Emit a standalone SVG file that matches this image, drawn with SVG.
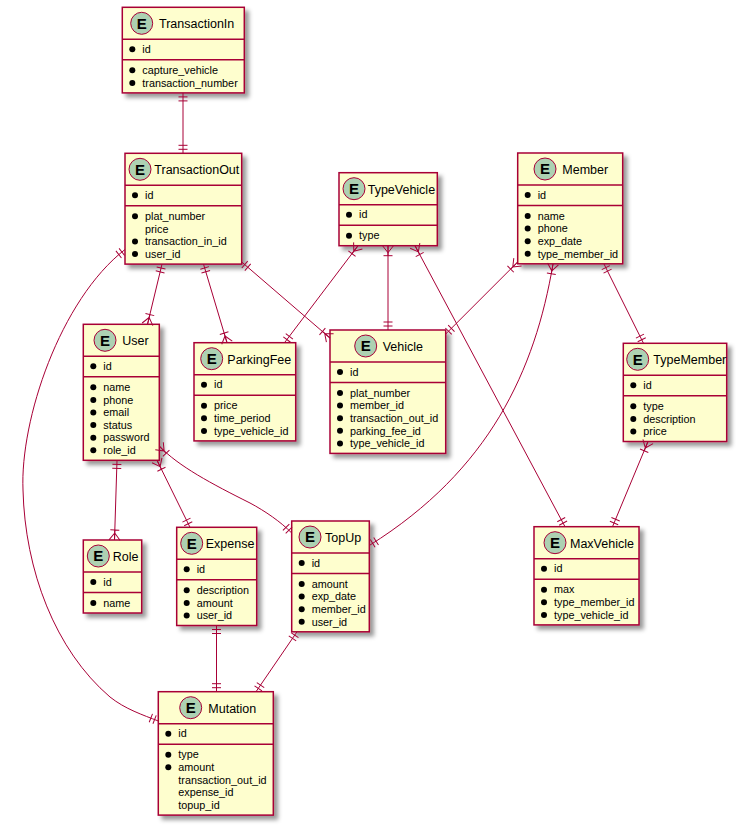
<svg xmlns="http://www.w3.org/2000/svg" width="739" height="828" viewBox="0 0 739 828">
<defs>
<filter id="sh" x="-20%" y="-20%" width="150%" height="150%">
<feGaussianBlur in="SourceAlpha" stdDeviation="2" result="b1"/>
<feColorMatrix type="matrix" in="b1" result="b2" values="0 0 0 0 0  0 0 0 0 0  0 0 0 0 0  0 0 0 0.4 0"/>
<feOffset dx="4" dy="4" in="b2" result="b3"/>
<feBlend in="SourceGraphic" in2="b3" mode="normal"/>
</filter>
<marker id="one" markerUnits="userSpaceOnUse" orient="auto-start-reverse" viewBox="-14 -8 28 16" markerWidth="28" markerHeight="16" refX="0" refY="0" overflow="visible">
<path d="M-4,-4.5V4.5M-8,-4.5V4.5" fill="none" stroke="#A80036" stroke-width="1"/>
</marker>
<marker id="many" markerUnits="userSpaceOnUse" orient="auto-start-reverse" viewBox="-14 -8 28 16" markerWidth="28" markerHeight="16" refX="0" refY="0" overflow="visible">
<path d="M-10,-4.5V4.5M-7,0L0,-5.5M-7,0L0,5.5M-10,0H0" fill="none" stroke="#A80036" stroke-width="1"/>
</marker>
</defs>
<style>
.box{fill:#FEFECE;stroke:#A80036;stroke-width:1.5;filter:url(#sh)}
.sep{stroke:#A80036;stroke-width:1.5}
.ec{fill:#ADD1B2;stroke:#A80036;stroke-width:1}
.E{font-family:"Liberation Sans",Arial,sans-serif;font-weight:bold;font-size:15px;text-anchor:middle;fill:#000}
.t{font-family:"Liberation Sans",Arial,sans-serif;font-size:12.5px;fill:#000}
.a{font-family:"Liberation Sans",Arial,sans-serif;font-size:10.8px;fill:#000}
.b{fill:#000}
.c{fill:none;stroke:#A80036;stroke-width:1}
.o1{marker-start:url(#one)}
.m1{marker-start:url(#many)}
.o2{marker-end:url(#one)}
.m2{marker-end:url(#many)}
</style>

<g id="TransactionIn">
<rect class="box" x="122.3" y="7.3" width="122" height="85.6"/>
<circle class="ec" cx="141.7" cy="23.3" r="11"/>
<text class="E" x="141.7" y="28.7">E</text>
<text class="t" x="159" y="28.3">TransactionIn</text>
<line class="sep" x1="122.3" y1="39.3" x2="244.3" y2="39.3"/>
<circle class="b" cx="132.3" cy="49.3" r="3"/>
<text class="a" x="142.3" y="53">id</text>
<line class="sep" x1="122.3" y1="59.8" x2="244.3" y2="59.8"/>
<circle class="b" cx="132.3" cy="70.3" r="3"/>
<text class="a" x="142.3" y="74">capture_vehicle</text>
<circle class="b" cx="132.3" cy="82.9" r="3"/>
<text class="a" x="142.3" y="86.6">transaction_number</text>
</g>

<g id="TransactionOut">
<rect class="box" x="125" y="153.3" width="116.7" height="110.8"/>
<circle class="ec" cx="140" cy="169.3" r="11"/>
<text class="E" x="140" y="174.7">E</text>
<text class="t" x="154.3" y="174.3">TransactionOut</text>
<line class="sep" x1="125" y1="185.3" x2="241.7" y2="185.3"/>
<circle class="b" cx="135" cy="195.3" r="3"/>
<text class="a" x="145" y="199">id</text>
<line class="sep" x1="125" y1="205.8" x2="241.7" y2="205.8"/>
<circle class="b" cx="135" cy="216.3" r="3"/>
<text class="a" x="145" y="220">plat_number</text>
<text class="a" x="145" y="232.6">price</text>
<circle class="b" cx="135" cy="241.5" r="3"/>
<text class="a" x="145" y="245.2">transaction_in_id</text>
<circle class="b" cx="135" cy="254.1" r="3"/>
<text class="a" x="145" y="257.8">user_id</text>
</g>

<g id="TypeVehicle">
<rect class="box" x="339" y="172.7" width="98.3" height="73"/>
<circle class="ec" cx="354" cy="188.7" r="11"/>
<text class="E" x="354" y="194.1">E</text>
<text class="t" x="367.7" y="193.7">TypeVehicle</text>
<line class="sep" x1="339" y1="204.7" x2="437.3" y2="204.7"/>
<circle class="b" cx="349" cy="214.7" r="3"/>
<text class="a" x="359" y="218.4">id</text>
<line class="sep" x1="339" y1="225.2" x2="437.3" y2="225.2"/>
<circle class="b" cx="349" cy="235.7" r="3"/>
<text class="a" x="359" y="239.4">type</text>
</g>

<g id="Member">
<rect class="box" x="517.7" y="153" width="105" height="110.8"/>
<circle class="ec" cx="545" cy="169" r="11"/>
<text class="E" x="545" y="174.4">E</text>
<text class="t" x="562.3" y="174">Member</text>
<line class="sep" x1="517.7" y1="185" x2="622.7" y2="185"/>
<circle class="b" cx="527.7" cy="195" r="3"/>
<text class="a" x="537.7" y="198.7">id</text>
<line class="sep" x1="517.7" y1="205.5" x2="622.7" y2="205.5"/>
<circle class="b" cx="527.7" cy="216" r="3"/>
<text class="a" x="537.7" y="219.7">name</text>
<circle class="b" cx="527.7" cy="228.6" r="3"/>
<text class="a" x="537.7" y="232.3">phone</text>
<circle class="b" cx="527.7" cy="241.2" r="3"/>
<text class="a" x="537.7" y="244.9">exp_date</text>
<circle class="b" cx="527.7" cy="253.8" r="3"/>
<text class="a" x="537.7" y="257.5">type_member_id</text>
</g>

<g id="User">
<rect class="box" x="83.3" y="324.3" width="76" height="136"/>
<circle class="ec" cx="105" cy="340.3" r="11"/>
<text class="E" x="105" y="345.7">E</text>
<text class="t" x="122.3" y="345.3">User</text>
<line class="sep" x1="83.3" y1="356.3" x2="159.3" y2="356.3"/>
<circle class="b" cx="93.3" cy="366.3" r="3"/>
<text class="a" x="103.3" y="370">id</text>
<line class="sep" x1="83.3" y1="376.8" x2="159.3" y2="376.8"/>
<circle class="b" cx="93.3" cy="387.3" r="3"/>
<text class="a" x="103.3" y="391">name</text>
<circle class="b" cx="93.3" cy="399.9" r="3"/>
<text class="a" x="103.3" y="403.6">phone</text>
<circle class="b" cx="93.3" cy="412.5" r="3"/>
<text class="a" x="103.3" y="416.2">email</text>
<circle class="b" cx="93.3" cy="425.1" r="3"/>
<text class="a" x="103.3" y="428.8">status</text>
<circle class="b" cx="93.3" cy="437.7" r="3"/>
<text class="a" x="103.3" y="441.4">password</text>
<circle class="b" cx="93.3" cy="450.3" r="3"/>
<text class="a" x="103.3" y="454">role_id</text>
</g>

<g id="ParkingFee">
<rect class="box" x="194" y="342.7" width="101.7" height="98.2"/>
<circle class="ec" cx="211.7" cy="358.7" r="11"/>
<text class="E" x="211.7" y="364.1">E</text>
<text class="t" x="227.3" y="363.7">ParkingFee</text>
<line class="sep" x1="194" y1="374.7" x2="295.7" y2="374.7"/>
<circle class="b" cx="204" cy="384.7" r="3"/>
<text class="a" x="214" y="388.4">id</text>
<line class="sep" x1="194" y1="395.2" x2="295.7" y2="395.2"/>
<circle class="b" cx="204" cy="405.7" r="3"/>
<text class="a" x="214" y="409.4">price</text>
<circle class="b" cx="204" cy="418.3" r="3"/>
<text class="a" x="214" y="422">time_period</text>
<circle class="b" cx="204" cy="430.9" r="3"/>
<text class="a" x="214" y="434.6">type_vehicle_id</text>
</g>

<g id="Vehicle">
<rect class="box" x="330" y="330" width="115.7" height="123.4"/>
<circle class="ec" cx="365.7" cy="346" r="11"/>
<text class="E" x="365.7" y="351.4">E</text>
<text class="t" x="382.7" y="351">Vehicle</text>
<line class="sep" x1="330" y1="362" x2="445.7" y2="362"/>
<circle class="b" cx="340" cy="372" r="3"/>
<text class="a" x="350" y="375.7">id</text>
<line class="sep" x1="330" y1="382.5" x2="445.7" y2="382.5"/>
<circle class="b" cx="340" cy="393" r="3"/>
<text class="a" x="350" y="396.7">plat_number</text>
<circle class="b" cx="340" cy="405.6" r="3"/>
<text class="a" x="350" y="409.3">member_id</text>
<circle class="b" cx="340" cy="418.2" r="3"/>
<text class="a" x="350" y="421.9">transaction_out_id</text>
<circle class="b" cx="340" cy="430.8" r="3"/>
<text class="a" x="350" y="434.5">parking_fee_id</text>
<circle class="b" cx="340" cy="443.4" r="3"/>
<text class="a" x="350" y="447.1">type_vehicle_id</text>
</g>

<g id="TypeMember">
<rect class="box" x="623.3" y="343.3" width="103.4" height="98.2"/>
<circle class="ec" cx="637.7" cy="359.3" r="11"/>
<text class="E" x="637.7" y="364.7">E</text>
<text class="t" x="653.3" y="364.3">TypeMember</text>
<line class="sep" x1="623.3" y1="375.3" x2="726.7" y2="375.3"/>
<circle class="b" cx="633.3" cy="385.3" r="3"/>
<text class="a" x="643.3" y="389">id</text>
<line class="sep" x1="623.3" y1="395.8" x2="726.7" y2="395.8"/>
<circle class="b" cx="633.3" cy="406.3" r="3"/>
<text class="a" x="643.3" y="410">type</text>
<circle class="b" cx="633.3" cy="418.9" r="3"/>
<text class="a" x="643.3" y="422.6">description</text>
<circle class="b" cx="633.3" cy="431.5" r="3"/>
<text class="a" x="643.3" y="435.2">price</text>
</g>

<g id="MaxVehicle">
<rect class="box" x="534" y="526.7" width="105" height="98.2"/>
<circle class="ec" cx="555" cy="542.7" r="11"/>
<text class="E" x="555" y="548.1">E</text>
<text class="t" x="570" y="547.7">MaxVehicle</text>
<line class="sep" x1="534" y1="558.7" x2="639" y2="558.7"/>
<circle class="b" cx="544" cy="568.7" r="3"/>
<text class="a" x="554" y="572.4">id</text>
<line class="sep" x1="534" y1="579.2" x2="639" y2="579.2"/>
<circle class="b" cx="544" cy="589.7" r="3"/>
<text class="a" x="554" y="593.4">max</text>
<circle class="b" cx="544" cy="602.3" r="3"/>
<text class="a" x="554" y="606">type_member_id</text>
<circle class="b" cx="544" cy="614.9" r="3"/>
<text class="a" x="554" y="618.6">type_vehicle_id</text>
</g>

<g id="Role">
<rect class="box" x="83.3" y="540" width="58.4" height="73"/>
<circle class="ec" cx="98.3" cy="556" r="11"/>
<text class="E" x="98.3" y="561.4">E</text>
<text class="t" x="112.7" y="561">Role</text>
<line class="sep" x1="83.3" y1="572" x2="141.7" y2="572"/>
<circle class="b" cx="93.3" cy="582" r="3"/>
<text class="a" x="103.3" y="585.7">id</text>
<line class="sep" x1="83.3" y1="592.5" x2="141.7" y2="592.5"/>
<circle class="b" cx="93.3" cy="603" r="3"/>
<text class="a" x="103.3" y="606.7">name</text>
</g>

<g id="Expense">
<rect class="box" x="176.7" y="527.3" width="80" height="98.2"/>
<circle class="ec" cx="191.7" cy="543.3" r="11"/>
<text class="E" x="191.7" y="548.7">E</text>
<text class="t" x="205.7" y="548.3">Expense</text>
<line class="sep" x1="176.7" y1="559.3" x2="256.7" y2="559.3"/>
<circle class="b" cx="186.7" cy="569.3" r="3"/>
<text class="a" x="196.7" y="573">id</text>
<line class="sep" x1="176.7" y1="579.8" x2="256.7" y2="579.8"/>
<circle class="b" cx="186.7" cy="590.3" r="3"/>
<text class="a" x="196.7" y="594">description</text>
<circle class="b" cx="186.7" cy="602.9" r="3"/>
<text class="a" x="196.7" y="606.6">amount</text>
<circle class="b" cx="186.7" cy="615.5" r="3"/>
<text class="a" x="196.7" y="619.2">user_id</text>
</g>

<g id="TopUp">
<rect class="box" x="291.7" y="521" width="77.6" height="110.8"/>
<circle class="ec" cx="310" cy="537" r="11"/>
<text class="E" x="310" y="542.4">E</text>
<text class="t" x="325" y="542">TopUp</text>
<line class="sep" x1="291.7" y1="553" x2="369.3" y2="553"/>
<circle class="b" cx="301.7" cy="563" r="3"/>
<text class="a" x="311.7" y="566.7">id</text>
<line class="sep" x1="291.7" y1="573.5" x2="369.3" y2="573.5"/>
<circle class="b" cx="301.7" cy="584" r="3"/>
<text class="a" x="311.7" y="587.7">amount</text>
<circle class="b" cx="301.7" cy="596.6" r="3"/>
<text class="a" x="311.7" y="600.3">exp_date</text>
<circle class="b" cx="301.7" cy="609.2" r="3"/>
<text class="a" x="311.7" y="612.9">member_id</text>
<circle class="b" cx="301.7" cy="621.8" r="3"/>
<text class="a" x="311.7" y="625.5">user_id</text>
</g>

<g id="Mutation">
<rect class="box" x="158.3" y="691.7" width="115" height="123.4"/>
<circle class="ec" cx="190.7" cy="707.7" r="11"/>
<text class="E" x="190.7" y="713.1">E</text>
<text class="t" x="208.3" y="712.7">Mutation</text>
<line class="sep" x1="158.3" y1="723.7" x2="273.3" y2="723.7"/>
<circle class="b" cx="168.3" cy="733.7" r="3"/>
<text class="a" x="178.3" y="737.4">id</text>
<line class="sep" x1="158.3" y1="744.2" x2="273.3" y2="744.2"/>
<circle class="b" cx="168.3" cy="754.7" r="3"/>
<text class="a" x="178.3" y="758.4">type</text>
<circle class="b" cx="168.3" cy="767.3" r="3"/>
<text class="a" x="178.3" y="771">amount</text>
<text class="a" x="178.3" y="783.6">transaction_out_id</text>
<text class="a" x="178.3" y="796.2">expense_id</text>
<text class="a" x="178.3" y="808.8">topup_id</text>
</g>

<g id="connectors">
<path class="c o1 o2" d="M183,92.9 L183,153.3"/>
<path class="c o1 m2" d="M162,264.1 L147.5,324.3"/>
<path class="c o1 m2" d="M203.5,264.1 L227,342.7"/>
<path class="c o1 m2" d="M241.7,262 L330,338"/>
<path class="c o1 o2" d="M125,249.5 C60,300 20,420 23,490 C25,570 55,650 110,697 C125,709 143,715 158.3,721"/>
<path class="c m1 o2" d="M358,245.7 L284.5,342.7"/>
<path class="c m1 o2" d="M388,245.7 L388,330"/>
<path class="c m1 o2" d="M415,245.7 L565,526.7"/>
<path class="c m1 o2" d="M517.7,262 L445.7,334"/>
<path class="c m1 o2" d="M553,264 C535,370 490,470 369.3,545.5"/>
<path class="c o1 o2" d="M604,264 L643.5,343.3"/>
<path class="c m1 o2" d="M648,441.5 L612.5,526.7"/>
<path class="c o1 m2" d="M117,460.3 L114.5,540"/>
<path class="c m1 o2" d="M157,460.3 L190,527.3"/>
<path class="c m1 o2" d="M159.3,446 C178,466 212,484 250,503 C265,511 281,522 291.7,533"/>
<path class="c o1 o2" d="M216.5,625.5 L216.5,691.7"/>
<path class="c o1 o2" d="M297,631.8 L256,691.7"/>
</g>
</svg>
